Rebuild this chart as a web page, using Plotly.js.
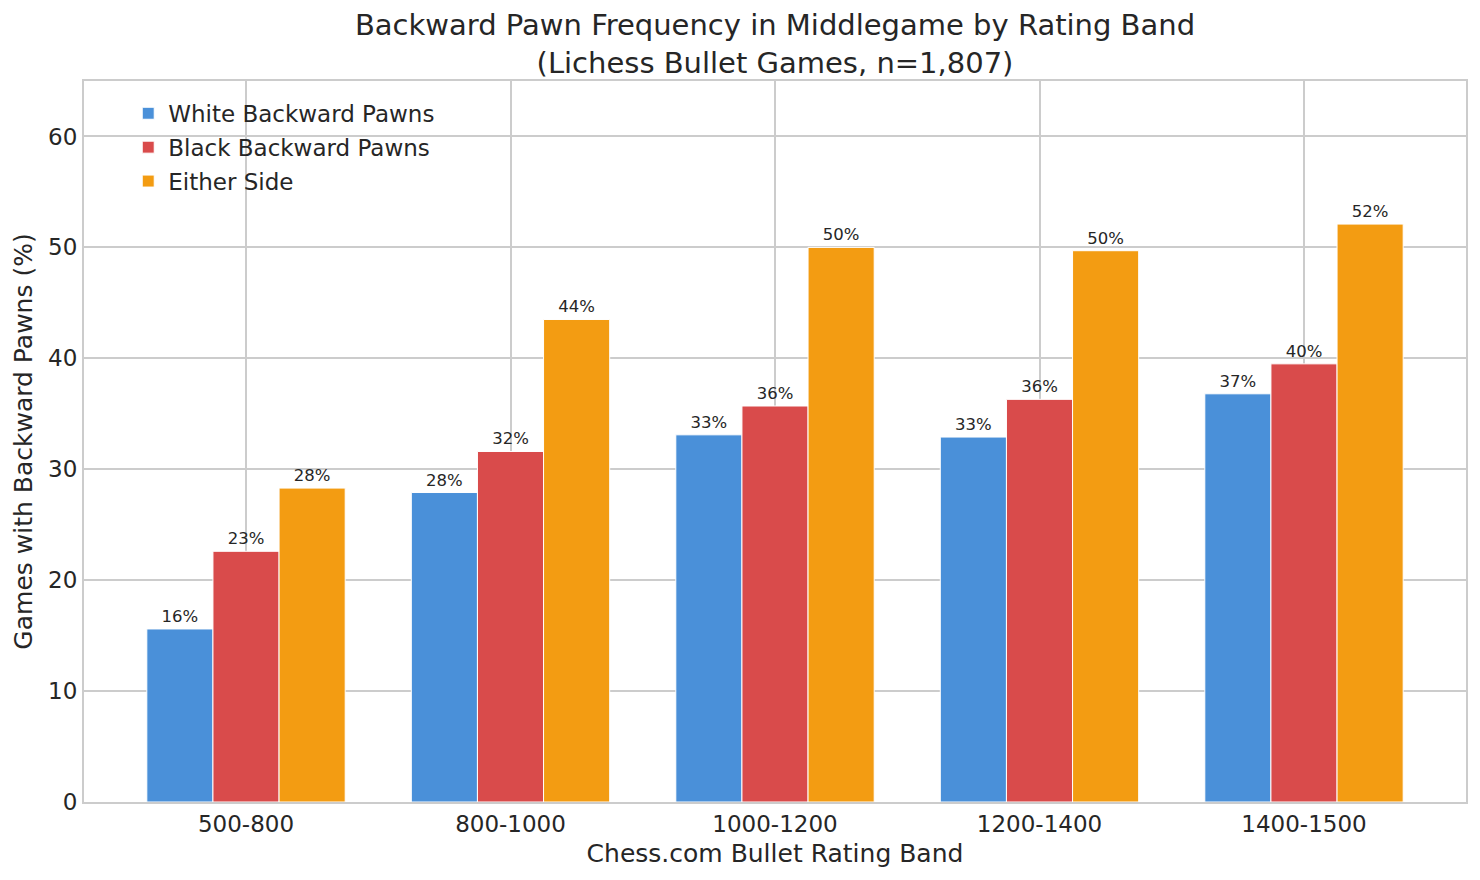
<!DOCTYPE html>
<html>
<head>
<meta charset="utf-8">
<script src="https://cdn.plot.ly/plotly-3.0.1.min.js"></script>
<style>html,body{margin:0;padding:0;background:#fff;}#chart{width:1480px;height:880px;}</style>
</head>
<body>
<div id="chart"></div>
<script>
const categories = ["500-800", "800-1000", "1000-1200", "1200-1400", "1400-1500"];
const whiteBackward = [15.6, 27.9, 33.1, 32.9, 36.8];
const blackBackward = [22.6, 31.6, 35.7, 36.3, 39.5];
const eitherSide = [28.3, 43.5, 50.0, 49.7, 52.1];
const seriesNames = ["White Backward Pawns", "Black Backward Pawns", "Either Side"];
const seriesColors = ["#4A90D9", "#D94B4B", "#F39C12"];
const yTicks = [0, 10, 20, 30, 40, 50, 60];

const FONT = "DejaVu Sans, sans-serif";
const TXT = "#262626";

const seriesValues = [whiteBackward, blackBackward, eitherSide];
const traces = seriesValues.map((vals, i) => ({
  type: "bar",
  name: seriesNames[i],
  legendgroup: "g" + i,
  x: categories,
  y: vals,
  marker: { color: seriesColors[i], line: { color: "#ffffff", width: 1 } },
  texttemplate: "%{y:.0f}%",
  textposition: "outside",
  cliponaxis: false,
  textfont: { family: FONT, size: 16.5, color: TXT },
  hoverinfo: "skip"
}));

const layout = {
  width: 1480,
  height: 880,
  paper_bgcolor: "#ffffff",
  plot_bgcolor: "#ffffff",
  font: { family: FONT, color: TXT },
  margin: { l: 84, r: 14, t: 81, b: 78, pad: 0 },
  barmode: "group",
  bargap: 0.25,
  bargroupgap: 0,
  showlegend: true,
  title: {
    text: "Backward Pawn Frequency in Middlegame by Rating Band<br>(Lichess Bullet Games, n=1,807)",
    font: { family: FONT, size: 29, color: TXT },
    x: 0.5, xref: "paper", xanchor: "center",
    y: 1, yref: "container", yanchor: "top",
    pad: { t: 35 }
  },
  legend: {
    x: 0.032, y: 0.985, xref: "paper", yref: "paper",
    xanchor: "left", yanchor: "top",
    bgcolor: "rgba(255,255,255,0)",
    borderwidth: 0,
    font: { family: FONT, size: 23, color: TXT },
    traceorder: "grouped",
    tracegroupgap: 1
  },
  xaxis: {
    type: "category",
    range: [-0.6125, 4.6125],
    showgrid: true, gridcolor: "#cccccc", gridwidth: 2,
    showline: true, linecolor: "#cccccc", linewidth: 2, mirror: true,
    ticks: "", tickfont: { family: FONT, size: 23, color: TXT },
    title: { text: "Chess.com Bullet Rating Band", font: { family: FONT, size: 25, color: TXT }, standoff: 9 },
    automargin: false,
    fixedrange: true
  },
  yaxis: {
    range: [0, 65],
    tickvals: yTicks,
    showgrid: true, gridcolor: "#cccccc", gridwidth: 2,
    zeroline: false,
    showline: true, linecolor: "#cccccc", linewidth: 2, mirror: true,
    ticks: "", tickfont: { family: FONT, size: 23, color: TXT },
    title: { text: "Games with Backward Pawns (%)", font: { family: FONT, size: 25, color: TXT }, standoff: 8 },
    automargin: false,
    fixedrange: true
  }
};

Plotly.newPlot("chart", traces, layout, { displayModeBar: false, staticPlot: true });
</script>
</body>
</html>
